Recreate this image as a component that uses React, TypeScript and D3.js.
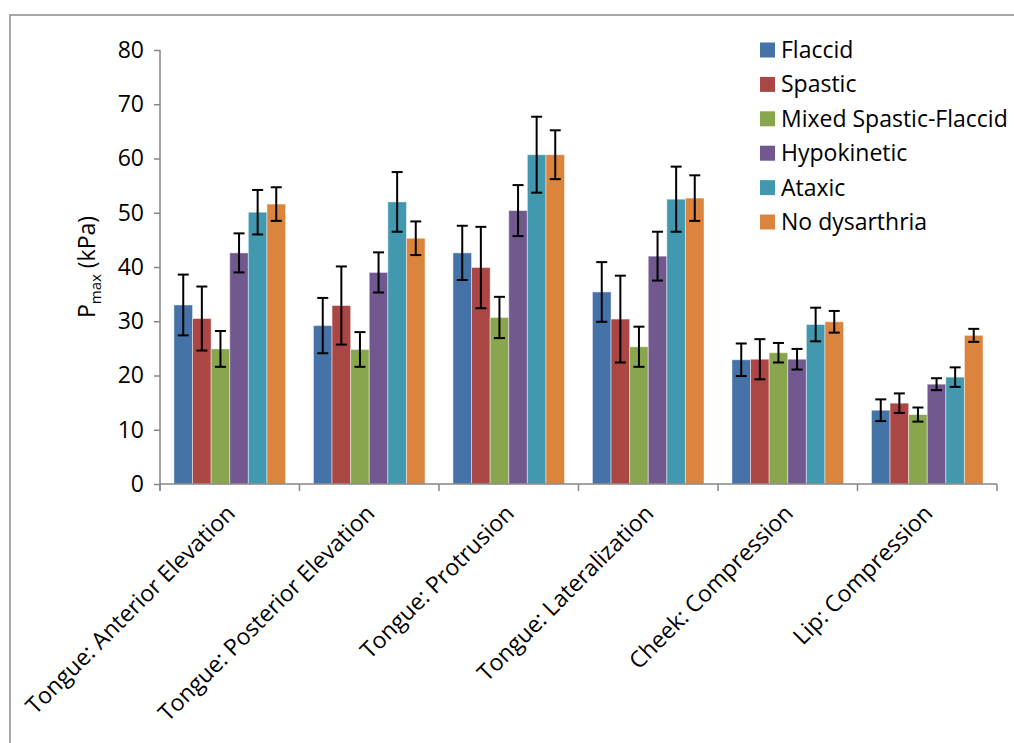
import React, { useRef, useEffect } from 'react';
import { select, scaleBand, scaleLinear, axisLeft, axisBottom } from 'd3';

// categories and series
const categories = [
  'Tongue: Anterior Elevation',
  'Tongue: Posterior Elevation',
  'Tongue: Protrusion',
  'Tongue: Lateralization',
  'Cheek: Compression',
  'Lip: Compression',
];
const seriesNames = ['Flaccid', 'Spastic', 'Mixed Spastic-Flaccid', 'Hypokinetic', 'Ataxic', 'No dysarthria'];
const seriesColors = ['#4572a7', '#aa4643', '#89a54e', '#71588f', '#4198af', '#db843d'];

// mean values per series (one per category)
const flaccid = [33.0, 29.2, 42.6, 35.4, 22.9, 13.6];
const spastic = [30.5, 32.9, 39.9, 30.4, 23.0, 14.9];
const mixed = [24.9, 24.8, 30.7, 25.3, 24.2, 12.8];
const hypokinetic = [42.6, 39.0, 50.4, 42.0, 23.0, 18.4];
const ataxic = [50.1, 52.0, 60.7, 52.5, 29.4, 19.7];
const noDysarthria = [51.6, 45.3, 60.7, 52.7, 29.9, 27.4];

// error (+/-) per series
const flaccidErr = [5.6, 5.1, 5.0, 5.5, 3.0, 2.0];
const spasticErr = [5.9, 7.2, 7.5, 8.0, 3.7, 1.8];
const mixedErr = [3.3, 3.2, 3.8, 3.7, 1.8, 1.3];
const hypokineticErr = [3.6, 3.7, 4.7, 4.5, 1.9, 1.1];
const ataxicErr = [4.1, 5.5, 7.0, 6.0, 3.1, 1.8];
const noDysarthriaErr = [3.1, 3.1, 4.5, 4.2, 2.0, 1.2];

const yTicks = [0, 10, 20, 30, 40, 50, 60, 70, 80];

const values = [flaccid, spastic, mixed, hypokinetic, ataxic, noDysarthria];
const errors = [flaccidErr, spasticErr, mixedErr, hypokineticErr, ataxicErr, noDysarthriaErr];

const FONT = "'Open Sans', 'Noto Sans', sans-serif";
const FS = 23;

const App = () => {
  const svgRef = useRef<SVGSVGElement>(null);

  useEffect(() => {
    const svg = select(svgRef.current);
    svg.selectAll('*').remove();

    const left = 160, right = 997, top = 50, bottom = 484;

    // outer frame
    svg.append('rect')
      .attr('x', 10).attr('y', 15)
      .attr('width', 1020).attr('height', 760)
      .attr('fill', 'white').attr('stroke', '#8c8c8c').attr('stroke-width', 1.5);

    const x0 = scaleBand<string>().domain(categories).range([left, right]).paddingInner(0.2).paddingOuter(0.1);
    const x1 = scaleBand<string>().domain(seriesNames).range([0, x0.bandwidth()]);
    const y = scaleLinear().domain([0, 80]).range([bottom, top]);

    // bars
    const groups = svg.append('g')
      .selectAll('g')
      .data(categories)
      .join('g')
      .attr('transform', c => `translate(${x0(c)},0)`);

    seriesNames.forEach((s, si) => {
      groups.append('rect')
        .attr('x', x1(s)!)
        .attr('y', (c, ci) => y(values[si][ci]))
        .attr('width', x1.bandwidth())
        .attr('height', (c, ci) => bottom - y(values[si][ci]))
        .attr('fill', seriesColors[si])
        .attr('stroke', 'rgba(255,255,255,0.45)')
        .attr('stroke-width', 1);
    });

    // error bars
    seriesNames.forEach((s, si) => {
      const cx = x1(s)! + x1.bandwidth() / 2;
      const eg = groups.append('g').attr('stroke', 'black').attr('stroke-width', 2);
      eg.append('line')
        .attr('x1', cx).attr('x2', cx)
        .attr('y1', (c, ci) => y(values[si][ci] + errors[si][ci]))
        .attr('y2', (c, ci) => y(values[si][ci] - errors[si][ci]));
      eg.append('line')
        .attr('x1', cx - 5.5).attr('x2', cx + 5.5)
        .attr('y1', (c, ci) => y(values[si][ci] + errors[si][ci]))
        .attr('y2', (c, ci) => y(values[si][ci] + errors[si][ci]));
      eg.append('line')
        .attr('x1', cx - 5.5).attr('x2', cx + 5.5)
        .attr('y1', (c, ci) => y(values[si][ci] - errors[si][ci]))
        .attr('y2', (c, ci) => y(values[si][ci] - errors[si][ci]));
    });

    // y axis
    const yAxis = svg.append('g')
      .attr('transform', `translate(${left},0)`)
      .call(axisLeft(y).tickValues(yTicks).tickSize(6).tickPadding(10).tickSizeOuter(0));
    yAxis.select('.domain').attr('stroke', '#868686').attr('stroke-width', 1.5)
      .attr('d', `M0,${top}V${bottom + 7}`);
    yAxis.selectAll('.tick line').attr('stroke', '#868686').attr('stroke-width', 1.5);
    yAxis.selectAll('.tick text').attr('font-family', FONT).attr('font-size', FS).attr('fill', '#000');

    // x axis with boundary ticks between categories
    const xAxis = svg.append('g')
      .attr('transform', `translate(0,${bottom})`)
      .call(axisBottom(x0).tickSize(0).tickFormat(() => ''));
    xAxis.select('.domain').attr('stroke', '#868686').attr('stroke-width', 1.5)
      .attr('d', `M${left},0H${right}`);
    const step = x0.step();
    const boundaryXs = [...categories.map(c => x0(c)! - step * 0.1), right];
    xAxis.selectAll('.bound')
      .data(boundaryXs)
      .join('line')
      .attr('class', 'bound')
      .attr('x1', d => d).attr('x2', d => d)
      .attr('y1', 0).attr('y2', 7)
      .attr('stroke', '#868686').attr('stroke-width', 1.5);

    // category labels, rotated
    svg.append('g')
      .selectAll('text')
      .data(categories)
      .join('text')
      .attr('transform', c => `translate(${x0(c)! + x0.bandwidth() / 2 + 1},${bottom + 25}) rotate(-45)`)
      .attr('text-anchor', 'end')
      .attr('dy', '0.35em')
      .attr('font-family', FONT)
      .attr('font-size', FS)
      .text(c => c);

    // y axis title
    const yt = svg.append('text')
      .attr('transform', `translate(95,${(top + bottom) / 2}) rotate(-90)`)
      .attr('text-anchor', 'middle')
      .attr('font-family', FONT)
      .attr('font-size', FS);
    yt.append('tspan').text('P');
    yt.append('tspan').attr('font-size', 15).attr('dy', 6).text('max');
    yt.append('tspan').attr('dy', -6).text(' (kPa)');

    // legend
    const legend = svg.append('g').attr('transform', 'translate(760,50)');
    const items = legend.selectAll('g')
      .data(seriesNames)
      .join('g')
      .attr('transform', (d, i) => `translate(0,${i * 34.4})`);
    items.append('rect')
      .attr('x', 0).attr('y', -7.5)
      .attr('width', 15).attr('height', 15)
      .attr('fill', (d, i) => seriesColors[i]);
    items.append('text')
      .attr('x', 21).attr('dy', '0.35em')
      .attr('font-family', FONT)
      .attr('font-size', FS)
      .text(d => d);
  }, []);

  return (
    <svg ref={svgRef} width={1014} height={743} style={{ position: 'absolute', left: 0, top: 0, background: 'white' }} />
  );
};

export default App;
